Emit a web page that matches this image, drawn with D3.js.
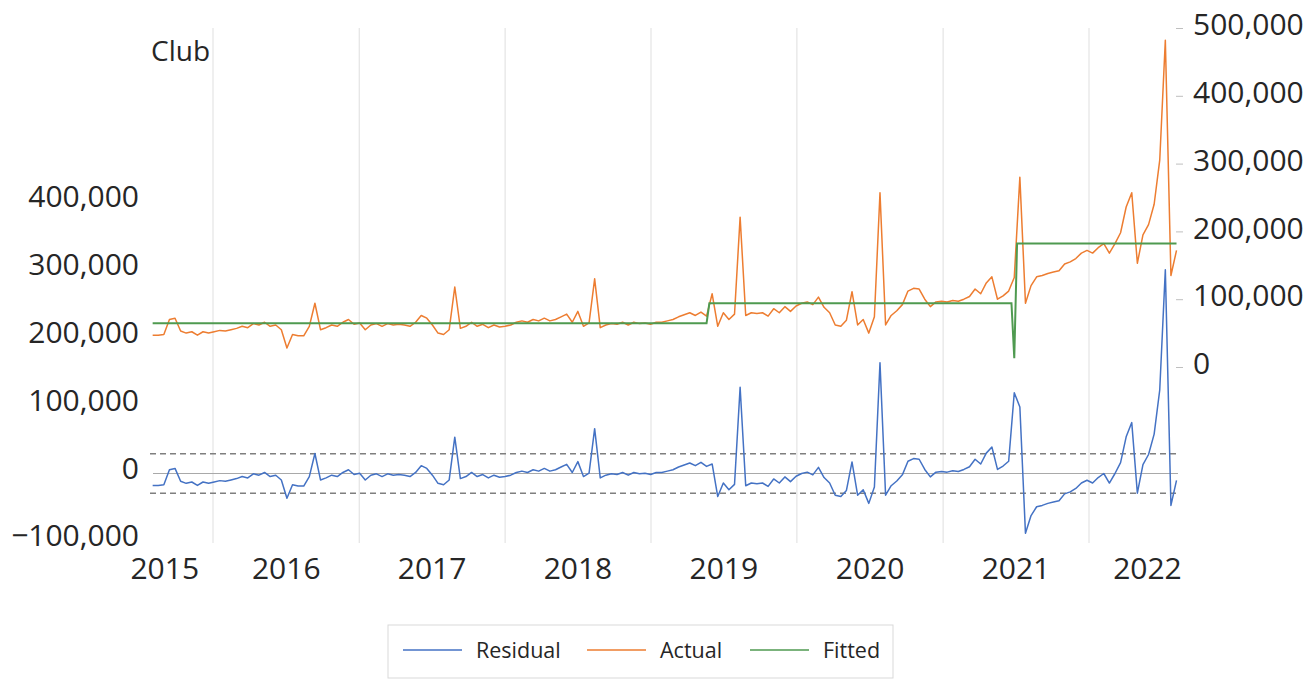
<!DOCTYPE html>
<html>
<head>
<meta charset="utf-8">
<script src="https://cdn.jsdelivr.net/npm/d3@7"></script>
<style>
  body { margin: 0; background: #fff; }
  text { font-family: "Open Sans", sans-serif; fill: #262626; }
</style>
</head>
<body>
<div id="chart"></div>
<script>
//-- Data (values in thousands, one observation every two weeks) --//
var startDate = "2015-08-03", stepDays = 14;

var actual = [
  47, 47, 48, 70, 72, 53, 50, 52, 47, 52,
  50, 52, 54, 53, 55, 57, 60, 58, 64, 62,
  66, 60, 62, 55, 28, 48, 46, 46, 60, 94,
  55, 58, 62, 60, 66, 70, 63, 65, 55, 62,
  64, 60, 64, 62, 63, 62, 60, 66, 76, 72,
  62, 50, 48, 55, 118, 57, 60, 66, 60, 63,
  58, 62, 59, 60, 62, 66, 68, 66, 70, 68,
  72, 68, 70, 74, 78, 66, 82, 60, 65, 130,
  58, 62, 64, 63, 66, 62, 66, 64, 65, 63,
  66, 66, 68, 70, 74, 77, 80, 76, 81, 75,
  108, 60, 80, 70, 78, 221, 76, 80, 79, 80,
  75, 86, 80, 89, 82, 90, 94, 96, 92, 103,
  88, 80, 62, 60, 69, 111, 62, 70, 50, 74,
  257, 62, 76, 83, 92, 112, 116, 115, 100, 89,
  96, 97, 96, 98, 97, 100, 104, 115, 108, 124,
  133, 100, 105, 112, 132, 280, 94, 120, 133, 135,
  138, 140, 142, 152, 155, 160, 168, 172, 168, 176,
  182, 168, 182, 198, 236, 257, 153, 195, 210, 240,
  305, 482, 135, 172
];

var residual = [
  -17.5, -17.5, -16.5, 5.5, 7.5, -11.5, -14.5, -12.5, -17.5, -12.5,
  -14.5, -12.5, -10.5, -11.5, -9.5, -7.5, -4.5, -6.5, -0.5, -2.5,
  1.5, -4.5, -2.5, -9.5, -36.5, -16.5, -18.5, -18.5, -4.5, 29.5,
  -9.5, -6.5, -2.5, -4.5, 1.5, 5.5, -1.5, 0.5, -9.5, -2.5,
  -0.5, -4.5, -0.5, -2.5, -1.5, -2.5, -4.5, 1.5, 11.5, 7.5,
  -2.5, -14.5, -16.5, -9.5, 53.5, -7.5, -4.5, 1.5, -4.5, -1.5,
  -6.5, -2.5, -5.5, -4.5, -2.5, 1.5, 3.5, 1.5, 5.5, 3.5,
  7.5, 3.5, 5.5, 9.5, 13.5, 1.5, 17.5, -4.5, 0.5, 66,
  -6.5, -2.5, -0.5, -1.5, 1.5, -2.5, 1.5, -0.5, 0.5, -1.5,
  1.5, 1.5, 3.5, 5.5, 9.5, 12.5, 15.5, 11.5, 16.5, 10.5,
  14, -34, -14, -24, -16, 127, -18, -14, -15, -14,
  -19, -8, -14, -5, -12, -4, 0, 2, -2, 9,
  -6, -14, -32, -34, -25, 17, -32, -24, -44, -20,
  163, -32, -18, -11, -2, 18, 22, 21, 6, -5,
  2, 3, 2, 4, 3, 6, 10, 21, 14, 30,
  39, 6, 11, 18, 119, 98, -88, -62, -49, -47,
  -44, -42, -40, -30, -27, -22, -14, -10, -14, -6,
  0, -14, 0, 16, 54, 75, -29, 13, 28, 58,
  123, 300, -47, -10
];

var fittedDates  = ["2015-08-03", "2019-05-20", "2019-05-27", "2021-06-21", "2021-06-28", "2021-07-05", "2022-08-08"];
var fittedValues = [64.5, 64.5, 94, 94, 13, 182, 182];

var residualSE = 29;

var yearLabels     = ["2015", "2016", "2017", "2018", "2019", "2020", "2021", "2022"];
var yearLabelDates = ["2015-09-01", "2016-07-01", "2017-07-01", "2018-07-01", "2019-07-01", "2020-07-01", "2021-07-01", "2022-05-26"];
var gridDates      = ["2016-01-01", "2017-01-01", "2018-01-01", "2019-01-01", "2020-01-01", "2021-01-01", "2022-01-01"];

var leftTicks  = [400, 300, 200, 100, 0, -100];
var rightTicks = [500, 400, 300, 200, 100, 0];

var seriesNames  = ["Residual", "Actual", "Fitted"];
var seriesColors = ["#4472C4", "#ED7D31", "#4f9a50"];

//-- SVG --//
var width = 1315, height = 679;
var plotLeft = 150, plotRight = 1178, plotTop = 28, plotBottom = 543;

var svg = d3.select("#chart").append("svg")
  .attr("width", width)
  .attr("height", height)
  .style("background", "#fff");

var parseDate = d3.timeParse("%Y-%m-%d"),
    fmt = d3.format(",");

var start = parseDate(startDate);
var obsDates = actual.map(function(d, i) { return d3.timeDay.offset(start, i * stepDays); });

//-- Scales --//
var xScale = d3.scaleTime()
  .domain([parseDate("2016-01-01"), parseDate("2022-01-01")])
  .range([213, 1089]);
var yLeft = d3.scaleLinear().domain([-100, 400]).range([541.4, 201.9]);
var yRight = d3.scaleLinear().domain([0, 500]).range([367, 28]);

//-- Gridlines --//
svg.append("g").selectAll("line")
  .data(gridDates)
  .enter().append("line")
  .attr("x1", function(d) { return xScale(parseDate(d)); })
  .attr("x2", function(d) { return xScale(parseDate(d)); })
  .attr("y1", plotTop)
  .attr("y2", plotBottom)
  .attr("stroke", "#e4e4e4")
  .attr("stroke-width", 1.2);

// zero line and +/- 1 S.E. band of the residual
svg.append("line")
  .attr("x1", plotLeft + 3).attr("x2", plotRight)
  .attr("y1", yLeft(0)).attr("y2", yLeft(0))
  .attr("stroke", "#a9a9a9").attr("stroke-width", 1.2);
[residualSE, -residualSE].forEach(function(v) {
  svg.append("line")
    .attr("x1", plotLeft).attr("x2", plotRight)
    .attr("y1", yLeft(v)).attr("y2", yLeft(v))
    .attr("stroke", "#7f7f7f").attr("stroke-width", 1.4)
    .attr("stroke-dasharray", "6,4");
});

//-- Axes --//
var leftAxis = d3.axisLeft(yLeft).tickValues(leftTicks).tickSize(0).tickPadding(0)
  .tickFormat(function(d) { return fmt(d * 1000); });
var gl = svg.append("g").attr("transform", "translate(139,0)").call(leftAxis);
gl.select(".domain").remove();
gl.selectAll("text").attr("font-size", 30).attr("dy", "0.15em")
  .style("font-family", "'Open Sans', sans-serif").style("fill", "#262626");

var rightAxis = d3.axisRight(yRight).tickValues(rightTicks).tickSize(7).tickPadding(10)
  .tickFormat(function(d) { return fmt(d * 1000); });
var gr = svg.append("g").attr("transform", "translate(1176,0)").call(rightAxis);
gr.select(".domain").remove();
gr.selectAll("line").attr("stroke", "#bfbfbf");
gr.selectAll("text").attr("font-size", 30).attr("dy", "0.22em")
  .style("font-family", "'Open Sans', sans-serif").style("fill", "#262626");

var bottomAxis = d3.axisBottom(xScale)
  .tickValues(yearLabelDates.map(parseDate))
  .tickSize(0).tickPadding(3)
  .tickFormat(function(d, i) { return yearLabels[i]; });
var gb = svg.append("g").attr("transform", "translate(0,555)").call(bottomAxis);
gb.select(".domain").remove();
gb.selectAll("text").attr("font-size", 30)
  .style("font-family", "'Open Sans', sans-serif").style("fill", "#262626");

//-- Title --//
svg.append("text")
  .attr("x", 151).attr("y", 61)
  .attr("font-size", 28)
  .text("Club");

//-- Lines --//
var rightLine = d3.line()
  .x(function(d) { return xScale(d.date); })
  .y(function(d) { return yRight(d.value); });
var leftLine = d3.line()
  .x(function(d) { return xScale(d.date); })
  .y(function(d) { return yLeft(d.value); });

var actualData = actual.map(function(v, i) { return {date: obsDates[i], value: v}; });
var fittedData = fittedValues.map(function(v, i) { return {date: parseDate(fittedDates[i]), value: v}; });
var residualData = residual.map(function(v, i) { return {date: obsDates[i], value: v}; });

svg.append("path").datum(actualData)
  .attr("d", rightLine).attr("fill", "none")
  .attr("stroke", seriesColors[1]).attr("stroke-width", 1.5)
  .attr("stroke-linejoin", "round");
svg.append("path").datum(fittedData)
  .attr("d", rightLine).attr("fill", "none")
  .attr("stroke", seriesColors[2]).attr("stroke-width", 2);
svg.append("path").datum(residualData)
  .attr("d", leftLine).attr("fill", "none")
  .attr("stroke", seriesColors[0]).attr("stroke-width", 1.5)
  .attr("stroke-linejoin", "round");

//-- Legend --//
var legend = svg.append("g");
legend.append("rect")
  .attr("x", 388).attr("y", 625).attr("width", 505).attr("height", 53)
  .attr("fill", "#fff").attr("stroke", "#d9d9d9");
var itemX = [403, 587, 750];
seriesNames.forEach(function(name, i) {
  legend.append("line")
    .attr("x1", itemX[i]).attr("x2", itemX[i] + 59)
    .attr("y1", 650).attr("y2", 650)
    .attr("stroke", seriesColors[i]).attr("stroke-width", 1.5);
  legend.append("text")
    .attr("x", itemX[i] + 73).attr("y", 658)
    .attr("font-size", 21.5)
    .text(name);
});
</script>
</body>
</html>
